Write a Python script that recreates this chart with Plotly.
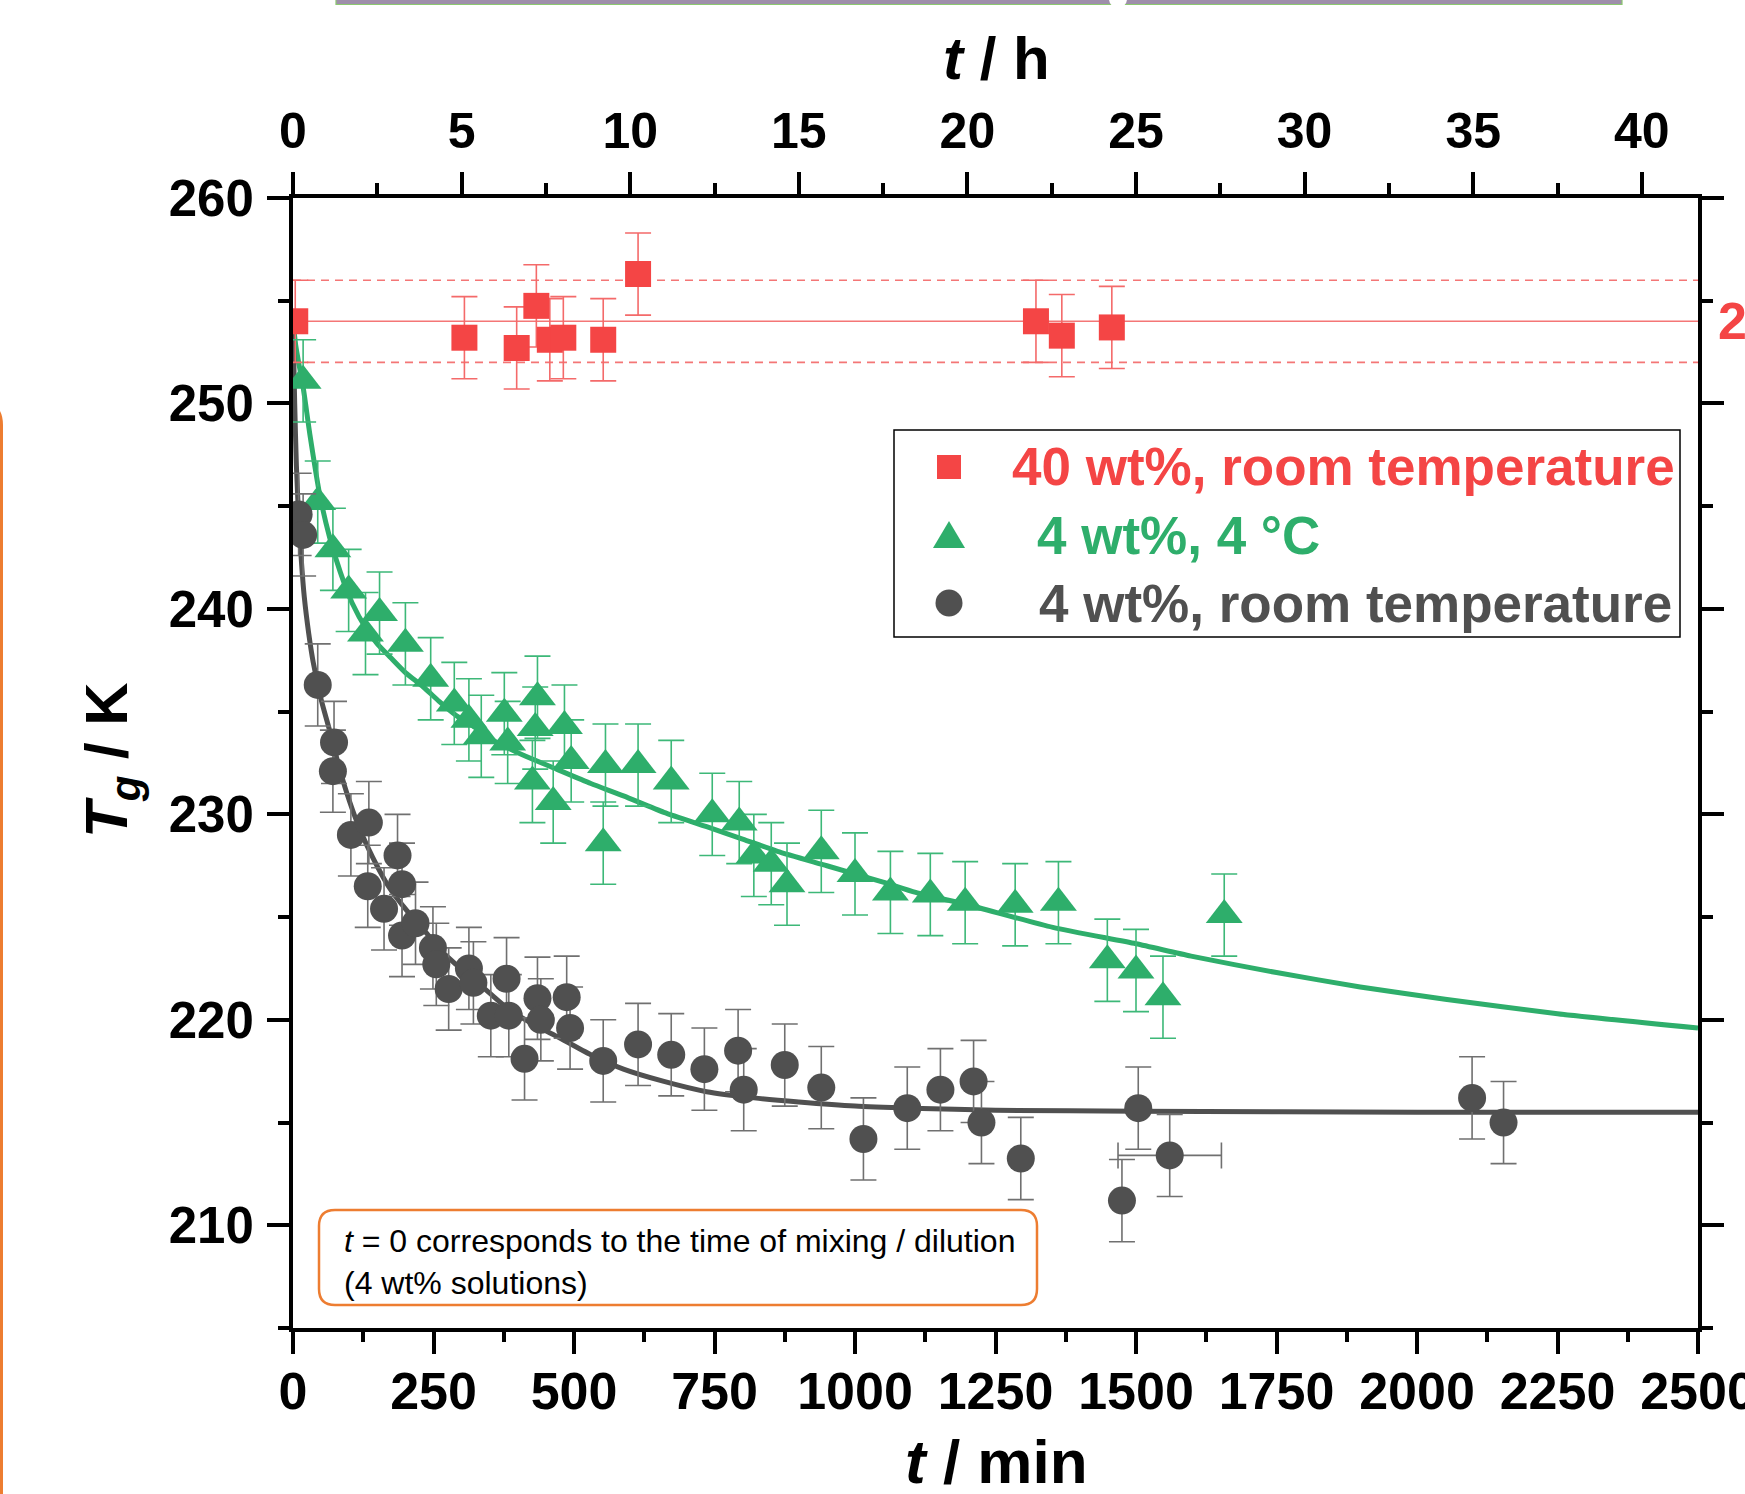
import plotly.graph_objects as go

# ---------------- data ----------------
# 40 wt%, room temperature
red_t = [4, 305, 398, 433, 457, 481, 552, 614, 1322, 1368, 1457]
red_T = [254.0, 253.2, 252.7, 254.75, 253.1, 253.2, 253.1, 256.3, 254.0, 253.3, 253.7]
red_err = [2.0, 2.0, 2.0, 2.0, 2.0, 2.0, 2.0, 2.0, 2.0, 2.0, 2.0]
red_mean = 254.0
red_sd = 2.0

# 4 wt%, 4 °C
green_t = [18, 44, 71, 99, 129, 154, 200, 245, 287, 313, 335, 376, 382, 426, 435, 431,
           463, 483, 495, 552, 556, 614, 673, 746, 794, 820, 851, 879, 940, 1000, 1063,
           1134, 1196, 1285, 1362, 1449, 1500, 1548, 1657]
green_T = [251.1, 245.2, 242.9, 240.9, 238.8, 239.8, 238.3, 236.6, 235.4, 234.6, 233.8,
           234.9, 233.5, 231.6, 235.7, 234.2, 230.6, 234.3, 232.6, 228.6, 232.4, 232.4,
           231.6, 230.0, 229.6, 228.0, 227.6, 226.6, 228.2, 227.1, 226.2, 226.1, 225.7,
           225.6, 225.7, 222.9, 222.4, 221.1, 225.1]
green_err = [2.0, 2.0, 2.0, 2.0, 2.0, 2.0, 2.0, 2.0, 2.0, 2.0, 2.0, 2.0, 2.0,
             2.0, 2.0, 2.0, 2.0, 2.0, 2.0, 2.0, 2.0, 2.0, 2.0, 2.0, 2.0, 2.0,
             2.0, 2.0, 2.0, 2.0, 2.0, 2.0, 2.0, 2.0, 2.0, 2.0, 2.0, 2.0, 2.0]

# 4 wt%, room temperature
gray_t = [10, 18, 44, 73, 71, 103, 135, 133, 162, 186, 194, 194, 218, 249, 255, 277, 313,
          321, 352, 380, 384, 412, 435, 441, 487, 493, 552, 614, 673, 732, 792, 802, 875,
          940, 1015, 1093, 1152, 1211, 1225, 1295, 1475, 1504, 1560, 2098, 2154]
gray_T = [244.6, 243.6, 236.3, 233.5, 232.1, 229.0, 229.6, 226.5, 225.4, 228.0, 226.6,
          224.1, 224.7, 223.5, 222.7, 221.5, 222.5, 221.8, 220.2, 222.0, 220.2, 218.1,
          221.05, 220.0, 221.1, 219.6, 218.0, 218.8, 218.3, 217.6, 218.5, 216.6, 217.8,
          216.7, 214.2, 215.7, 216.6, 217.0, 215.0, 213.25, 211.2, 215.7, 213.4, 216.2,
          215.0]
gray_err = [2.0, 2.0, 2.0, 2.0, 2.0, 2.0, 2.0, 2.0, 2.0, 2.0, 2.0, 2.0, 2.0, 2.0, 2.0,
            2.0, 2.0, 2.0, 2.0, 2.0, 2.0, 2.0, 2.0, 2.0, 2.0, 2.0, 2.0, 2.0, 2.0, 2.0,
            2.0, 2.0, 2.0, 2.0, 2.0, 2.0, 2.0, 2.0, 2.0, 2.0, 2.0, 2.0, 2.0, 2.0, 2.0]
# horizontal error (only one point has it)
gray_xerr_t = [1560]
gray_xerr_T = [213.4]
gray_xerr = [92]

# fitted curves
gray_fit_t = [0, 3, 6, 10, 15, 20, 28, 36, 50, 66, 83, 101, 120, 142, 170, 203, 235, 262,
              290, 320, 350, 380, 420, 469, 530, 588, 660, 736, 820, 900, 1000, 1100, 1250,
              1500, 2000, 2500]
gray_fit_T = [254.0, 250.0, 247.0, 244.5, 242.3, 240.6, 238.8, 237.4, 235.6, 234.0, 232.2,
              230.6, 229.2, 227.9, 226.5, 225.3, 224.3, 223.4, 222.7, 222.0, 221.3, 220.6,
              219.9, 219.2, 218.3, 217.6, 217.0, 216.5, 216.2, 216.0, 215.8, 215.7, 215.6,
              215.55, 215.5, 215.5]
green_fit_t = [0, 5, 10, 18, 30, 48, 65, 84, 105, 131, 150, 173, 200, 232, 260, 291, 320,
               350, 400, 469, 530, 588, 660, 736, 800, 862, 950, 1050, 1108, 1200, 1352,
               1500, 1598, 1750, 1899, 2050, 2250, 2500]
green_fit_T = [254.0, 252.8, 252.0, 250.8, 248.5, 245.5, 243.5, 241.8, 240.3, 239.0, 238.3,
               237.65, 236.9, 236.2, 235.5, 234.8, 234.3, 233.7, 233.0, 232.2, 231.5, 230.9,
               230.1, 229.4, 228.8, 228.2, 227.5, 226.7, 226.2, 225.6, 224.5, 223.7, 223.1,
               222.3, 221.6, 221.0, 220.3, 219.6]

x_range = [0, 2500]          # min
y_range = [205, 260]         # K
x_ticks = [0, 250, 500, 750, 1000, 1250, 1500, 1750, 2000, 2250, 2500]
y_ticks = [210, 220, 230, 240, 250, 260]
h_ticks = [0, 5, 10, 15, 20, 25, 30, 35, 40]

legend_labels = ["40 wt%, room temperature", "4 wt%, 4 °C", "4 wt%, room temperature"]

# ---------------- style ----------------
RED, GREEN, GRAY = "#F44545", "#2EAE6B", "#505050"
RED_E, GREEN_E, GRAY_E = "#F46A6A", "#3DB878", "#707070"
RED_L = "#F47676"
ORANGE = "#ED7D31"
FONT = "Liberation Sans, Arial, sans-serif"

W, Hf = 1745, 1494
ML, MR, MT, MB = 293, 47, 198, 166
PW, PH = W - ML - MR, Hf - MT - MB
BOT = Hf - MB


def px(xp):
    return (xp - ML) / PW


def py(yp):
    return (BOT - yp) / PH


fig = go.Figure()

# reference band for 40 wt%
fig.add_trace(go.Scatter(x=x_range, y=[red_mean, red_mean], mode="lines",
                         line=dict(color=RED_L, width=1.6), hoverinfo="skip"))
for v in (red_mean + red_sd, red_mean - red_sd):
    fig.add_trace(go.Scatter(x=x_range, y=[v, v], mode="lines",
                             line=dict(color=RED_L, width=1.6, dash="8px,6px"),
                             hoverinfo="skip"))

# fits
fig.add_trace(go.Scatter(x=green_fit_t, y=green_fit_T, mode="lines",
                         line=dict(color=GREEN, width=5, shape="spline", smoothing=0.6)))
fig.add_trace(go.Scatter(x=gray_fit_t, y=gray_fit_T, mode="lines",
                         line=dict(color=GRAY, width=5, shape="spline", smoothing=0.6)))

# data
fig.add_trace(go.Scatter(x=red_t, y=red_T, mode="markers", name=legend_labels[0],
                         marker=dict(symbol="square", size=26, color=RED),
                         error_y=dict(type="data", array=red_err, color=RED_E,
                                      thickness=1.6, width=13)))
fig.add_trace(go.Scatter(x=green_t, y=green_T, mode="markers", name=legend_labels[1],
                         marker=dict(symbol="triangle-up", size=32, color=GREEN),
                         error_y=dict(type="data", array=green_err, color=GREEN_E,
                                      thickness=1.6, width=13)))
fig.add_trace(go.Scatter(x=gray_xerr_t, y=gray_xerr_T, mode="markers",
                         marker=dict(size=1, color=GRAY, opacity=0),
                         error_x=dict(type="data", array=gray_xerr, color=GRAY_E,
                                      thickness=1.6, width=13)))
fig.add_trace(go.Scatter(x=gray_t, y=gray_T, mode="markers", name=legend_labels[2],
                         marker=dict(symbol="circle", size=28, color=GRAY),
                         error_y=dict(type="data", array=gray_err, color=GRAY_E,
                                      thickness=1.6, width=13)))

# dummy trace for the top (hours) axis
fig.add_trace(go.Scatter(x=[x_range[0] / 60, x_range[1] / 60], y=y_range, xaxis="x2",
                         mode="markers", marker=dict(opacity=0), hoverinfo="skip"))

axis_common = dict(showline=True, linewidth=4, linecolor="black", ticks="outside",
                   tickwidth=3.5, tickcolor="black", ticklen=22, showgrid=False,
                   zeroline=False, automargin=False)

fig.update_layout(
    width=W, height=Hf, showlegend=False,
    margin=dict(l=ML, r=MR, t=MT, b=MB, autoexpand=False),
    paper_bgcolor="white", plot_bgcolor="white",
    xaxis=dict(range=x_range, tickvals=x_ticks, **axis_common,
               ticklabeloverflow="allow",
               minor=dict(dtick=125, ticklen=10, tickwidth=3.5, tickcolor="black",
                          ticks="outside", showgrid=False),
               tickfont=dict(family=FONT, size=52, color="black", weight="bold"),
               ticklabelstandoff=-7),
    xaxis2=dict(range=[x_range[0] / 60, x_range[1] / 60], overlaying="x", side="top",
                tickvals=h_ticks, anchor="y", **axis_common,
                minor=dict(dtick=2.5, ticklen=11, tickwidth=3.5, tickcolor="black",
                           ticks="outside", showgrid=False),
                tickfont=dict(family=FONT, size=50, color="black", weight="bold"),
                ticklabelstandoff=4),
    yaxis=dict(range=y_range, tickvals=y_ticks, mirror="ticks", **axis_common,
               minor=dict(dtick=5, ticklen=11, tickwidth=3.5, tickcolor="black",
                          ticks="outside", showgrid=False),
               tickfont=dict(family=FONT, size=51, color="black", weight="bold"),
               ticklabelstandoff=3),
)

annotations = []
# axis titles
annotations.append(dict(xref="paper", yref="paper", x=px(996), y=py(58),
                        xanchor="center", yanchor="middle",
                        text="<b><i>t</i> / h</b>", showarrow=False,
                        font=dict(family=FONT, size=60, color="black")))
annotations.append(dict(xref="paper", yref="paper", x=px(996), y=py(1461),
                        xanchor="center", yanchor="middle",
                        text="<b><i>t</i> / min</b>", showarrow=False,
                        font=dict(family=FONT, size=62, color="black")))
annotations.append(dict(xref="paper", yref="paper", x=px(111), y=py(760),
                        xanchor="center", yanchor="middle",
                        text="<b><i>T<sub>g</sub></i> / K</b>", showarrow=False,
                        textangle=-90, font=dict(family=FONT, size=60, color="black")))
# cut-off label of the 40 wt% mean
annotations.append(dict(xref="paper", yref="y", x=px(1716), y=red_mean, xanchor="left",
                        yanchor="middle", text="<b>254 K</b>", showarrow=False,
                        font=dict(family=FONT, size=52, color=RED)))
# note box text
annotations.append(dict(xref="paper", yref="paper", x=px(342), y=py(1262), xanchor="left",
                        yanchor="middle", align="left", showarrow=False,
                        text="<i>t</i> = 0 corresponds to the time of mixing / dilution<br>(4 wt% solutions)",
                        font=dict(family=FONT, size=32, color="black")))
# legend texts
leg_rows = [467, 535, 603]
leg_text_x = [1010, 1035, 1037]
leg_colors = [RED, GREEN, GRAY]
for lab, yy, xx, c in zip(legend_labels, leg_rows, leg_text_x, leg_colors):
    annotations.append(dict(xref="paper", yref="paper", x=px(xx), y=py(yy), xanchor="left",
                            yanchor="middle", text="<b>" + lab + "</b>", showarrow=False,
                            font=dict(family=FONT, size=53, color=c)))
fig.update_layout(annotations=annotations)

shapes = []
# legend box
shapes.append(dict(type="rect", xref="paper", yref="paper", x0=px(894), x1=px(1680),
                   y0=py(637), y1=py(430), line=dict(color="black", width=1.5),
                   fillcolor="rgba(0,0,0,0)"))
# legend symbols
cx = 949
shapes.append(dict(type="rect", xref="paper", yref="paper", x0=px(cx - 12), x1=px(cx + 12),
                   y0=py(leg_rows[0] + 12), y1=py(leg_rows[0] - 12),
                   fillcolor=RED, line=dict(width=0)))
ty = leg_rows[1]
shapes.append(dict(type="path", xref="paper", yref="paper",
                   path=f"M {px(cx)},{py(ty - 14)} L {px(cx + 16)},{py(ty + 13)} "
                        f"L {px(cx - 16)},{py(ty + 13)} Z",
                   fillcolor=GREEN, line=dict(width=0)))
shapes.append(dict(type="circle", xref="paper", yref="paper", x0=px(cx - 13.5),
                   x1=px(cx + 13.5), y0=py(leg_rows[2] + 13.5), y1=py(leg_rows[2] - 13.5),
                   fillcolor=GRAY, line=dict(width=0)))

# rounded note box
bx0, bx1, by0, by1, r = 319, 1037, 1305, 1210, 16
X0, X1, Y0, Y1 = px(bx0), px(bx1), py(by0), py(by1)
rx, ry = r / PW, r / PH
shapes.append(dict(type="path", xref="paper", yref="paper",
                   path=(f"M {X0 + rx},{Y1} L {X1 - rx},{Y1} Q {X1},{Y1} {X1},{Y1 - ry} "
                         f"L {X1},{Y0 + ry} Q {X1},{Y0} {X1 - rx},{Y0} L {X0 + rx},{Y0} "
                         f"Q {X0},{Y0} {X0},{Y0 + ry} L {X0},{Y1 - ry} Q {X0},{Y1} {X0 + rx},{Y1} Z"),
                   line=dict(color=ORANGE, width=2.5), fillcolor="white", layer="below"))

# cropped decorations at the image edges
shapes.append(dict(type="rect", xref="paper", yref="paper", x0=px(336), x1=px(1622),
                   y0=py(4.5), y1=py(-10), fillcolor="#9E8FAA",
                   line=dict(color="#8CC870", width=1.2)))
shapes.append(dict(type="circle", xref="paper", yref="paper", x0=px(1109), x1=px(1127),
                   y0=py(8), y1=py(-10), fillcolor="white", line=dict(width=0)))
shapes.append(dict(type="path", xref="paper", yref="paper",
                   path=f"M {px(1.5)},{py(1500)} L {px(1.5)},{py(425)} Q {px(1.5)},{py(410)} {px(-8)},{py(405)}",
                   line=dict(color=ORANGE, width=3)))
fig.update_layout(shapes=shapes)

fig.write_html("out.html")
